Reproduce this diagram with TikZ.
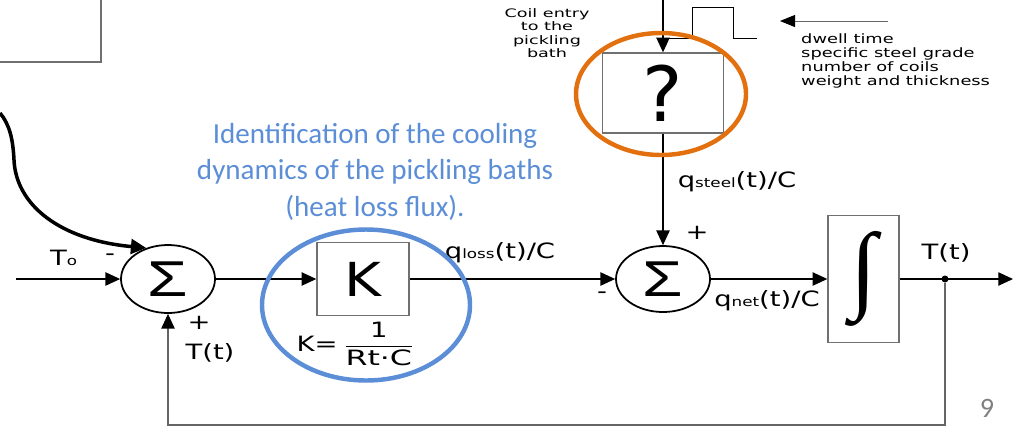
\documentclass[tikz,border=0pt]{standalone}
\usepackage{fontspec}
\setmainfont{DejaVu Sans}
\newfontfamily\carl{Carlito}
\newfontfamily\libs{Liberation Sans}
\newfontfamily\libser{Liberation Serif}
\usetikzlibrary{arrows.meta,shapes.geometric}
\definecolor{bluec}{HTML}{5B8ED6}
\definecolor{orangec}{HTML}{E2700F}
\definecolor{boxgray}{HTML}{707070}
\newcommand\sx[2][1.3]{\scalebox{#1}[1]{#2}}
\newcommand\subf[1]{{\fontsize{11}{11}\selectfont #1}}
\tikzset{
  lab/.style={font=\fontsize{18}{20}\selectfont, inner sep=0pt},
  blk/.style={draw=boxgray, line width=1.2pt, inner sep=0pt},
  sumnode/.style={ellipse, draw, line width=1.5pt, inner sep=0pt,
    minimum width=28.2mm, minimum height=20.4mm, font=\libs\fontsize{43}{43}\selectfont},
  sig/.style={line width=1pt, -{Triangle[length=4.4mm,width=4mm]}},
  fbline/.style={line width=1pt, draw=black!60, -{Triangle[length=4.4mm,width=4mm,color=black]}},
  hilite/.style={ellipse, line width=3.8pt, inner sep=0pt},
}
\begin{document}
\begin{tikzpicture}[x=0.3mm,y=-0.3mm]
\useasboundingbox (0,0) rectangle (1015,426);
% partial box top-left
\draw[boxgray, line width=1.2pt] (0,62) -- (101,62) -- (101,0);

% blocks
\node[sumnode] (s1) at (168,279) {\sx[1.3]{Σ}};
\node[sumnode, minimum height=19.8mm] (s2) at (663,279) {\sx[1.3]{Σ}};
\node[blk, minimum width=27.6mm, minimum height=21.9mm] (k) at (363,279) {\sx[1.2]{\fontsize{40}{40}\selectfont K}};
\node[blk, minimum width=36.3mm, minimum height=24mm] (q) at (663,93) {\fontsize{65}{65}\selectfont ?};
\node[blk, minimum width=21.3mm, minimum height=38.1mm] (int) at (863.5,279) {\libser\resizebox*{!}{28.5mm}{∫}};
\node[circle, fill, inner sep=0pt, minimum size=2.1mm] (dot) at (945,279) {};

% coordinates
\coordinate (inT) at (16,279);
\coordinate (outc) at (1013,279);
\coordinate (topin) at (663,0);
\coordinate (fb1) at (945,425);
\coordinate (fb2) at (168,425);
\coordinate (cstart) at (0,113);
\coordinate (cmid) at (14,160);
\coordinate (pA) at (888,21);
\coordinate (pB) at (780,21);

% connectors
\draw[sig] (inT) -- (s1);
\draw[sig] (s1) -- (k);
\draw[sig] (k) -- (s2);
\draw[sig] (s2) -- (int);
\draw[sig] (int) -- (outc);
\draw[sig] (topin) -- (q);
\draw[sig] (q) -- (s2);
\draw[fbline] (dot) -- (fb1) -- (fb2) -- (s1.south);
\draw[line width=3pt, -{Triangle[length=4.6mm,width=4.4mm]}]
  (cstart) .. controls (10,125) and (13,140) .. (cmid)
  .. controls (16,205) and (60,240) .. (s1.125);
\draw[black!60, line width=0.8pt, -{Triangle[length=4.5mm,width=3.6mm,color=black]}] (pA) -- (pB);

% pulse
\draw[line width=0.8pt] (668,38) -- (692,38) -- (692,7) -- (733,7) -- (733,38) -- (757,38);

% labels
\node[lab, anchor=base west] (To) at (50,265) {\sx{T\subf{o}}};
\node[lab] (m1) at (110,257) {\sx{-}};
\node[lab] (p1) at (199,323) {\sx{+}};
\node[lab] (Tt1) at (210,353) {\sx{T(t)}};
\node[lab] (kf) at (355,344) {\sx{K=}\hspace{2mm}$\displaystyle\frac{\mbox{\sx{1}}}{\mbox{\sx[1.5]{Rt·C}}}$};
\node[lab] (ql) at (500,253) {\sx{q\subf{loss}(t)/C}};
\node[lab] (qs) at (737,182) {\sx{q\subf{steel}(t)/C}};
\node[lab] (qn) at (767,301) {\sx{q\subf{net}(t)/C}};
\node[lab] (m2) at (602,295) {\sx{-}};
\node[lab] (p2) at (697,233) {\sx{+}};
\node[lab] (Tt2) at (946,253) {\sx{T(t)}};

\node[inner sep=0pt, font=\fontsize{10}{11.5}\selectfont] (coil) at (547,35)
  {\sx[1.5]{\begin{tabular}{@{}c@{}}Coil entry\\to the\\pickling\\bath\end{tabular}}};
\node[inner sep=0pt, anchor=west, font=\fontsize{11}{12}\selectfont] (info) at (801,62)
  {\sx[1.38]{\begin{tabular}{@{}l@{}}dwell time\\specific steel grade\\number of coils\\weight and thickness\end{tabular}}};

\node[font=\carl\fontsize{24.8}{31.2}\selectfont, text=bluec, align=center, anchor=north, inner sep=0pt] (blue) at (375,123)
  {Identification of the cooling\\dynamics of the pickling baths\\(heat loss flux).};
\node[font=\carl\fontsize{24}{24}\selectfont, text=black!50] (pg) at (987,408) {9};

% highlight ellipses
\node[hilite, draw=bluec, minimum width=62.4mm, minimum height=45.3mm] (be) at (366,305) {};
\node[hilite, draw=orangec, minimum width=51mm, minimum height=36.6mm] (oe) at (661,94) {};
\end{tikzpicture}
\end{document}
